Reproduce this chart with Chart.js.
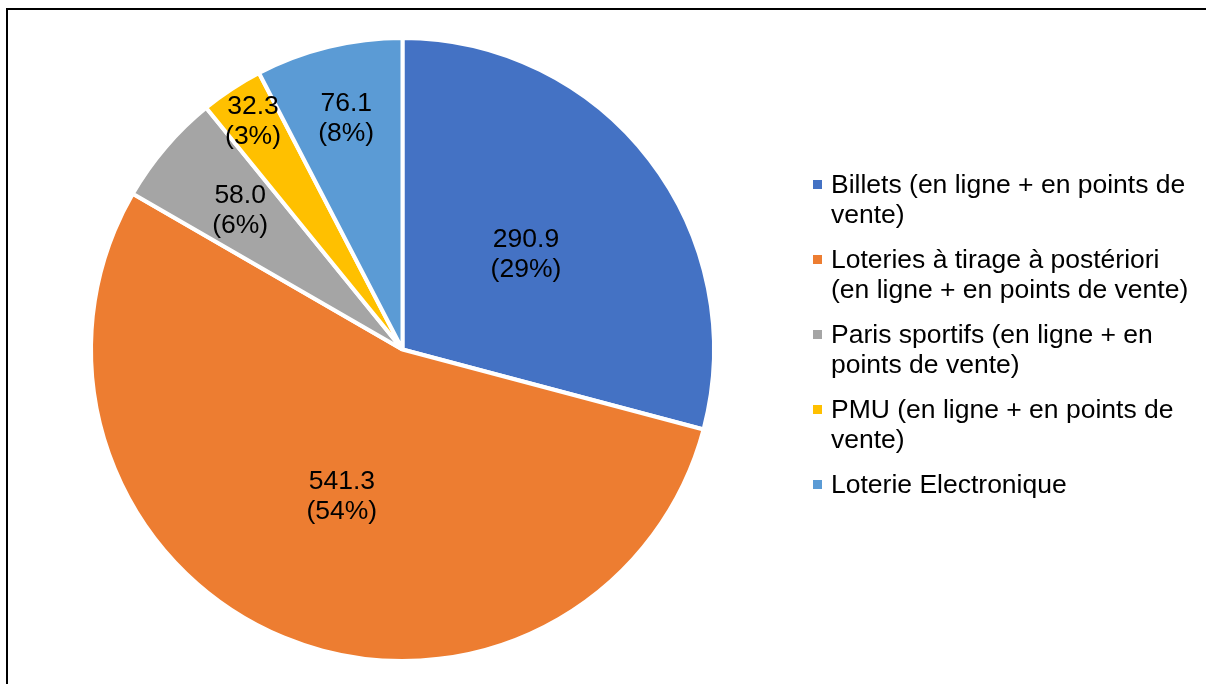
<!DOCTYPE html>
<html>
<head>
<meta charset="utf-8">
<script src="https://cdn.jsdelivr.net/npm/chart.js@4"></script>
<style>
  html, body { margin: 0; padding: 0; background: #fff; overflow: hidden; }
  #wrap { position: relative; width: 1206px; height: 684px; }
  #frame { position: absolute; left: 6px; top: 8px; width: 1400px; height: 900px; border: 2px solid #000; }
  #chart { position: absolute; left: 0; top: 0; }
  #legend { position: absolute; left: 831px; top: 169px; width: 368px;
    font-family: "Liberation Sans", Arial, sans-serif; font-size: 26.5px; line-height: 30px; color: #000; }
  .item { position: relative; margin-bottom: 15px; }
  .item i { position: absolute; left: -18px; top: 11px; width: 9px; height: 9px; }
</style>
</head>
<body>
<div id="wrap">
  <div id="frame"></div>
  <canvas id="chart" width="1206" height="684"></canvas>
  <div id="legend"></div>
</div>
<script>
/* ===== DATA ===== */
const categories = [
  'Billets (en ligne + en points de vente)',
  'Loteries à tirage à postériori (en ligne + en points de vente)',
  'Paris sportifs (en ligne + en points de vente)',
  'PMU (en ligne + en points de vente)',
  'Loterie Electronique'
];
const values = [290.9, 541.3, 58.0, 32.3, 76.1];
const colors = ['#4472C4', '#ED7D31', '#A5A5A5', '#FFC000', '#5B9BD5'];

/* ===== LABELS (value + percent inside slices) ===== */
const sliceLabels = {
  id: 'sliceLabels',
  afterDatasetsDraw(chart, args, opts) {
    const ctx = chart.ctx;
    const data = chart.data.datasets[0].data;
    const total = data.reduce((a, b) => a + b, 0);
    ctx.save();
    ctx.font = '26.5px "Liberation Sans", Arial, sans-serif';
    ctx.fillStyle = '#000';
    ctx.textAlign = 'center';
    ctx.textBaseline = 'middle';
    chart.getDatasetMeta(0).data.forEach((arc, i) => {
      const p = arc.getProps(['x', 'y', 'startAngle', 'endAngle', 'outerRadius'], true);
      const mid = (p.startAngle + p.endAngle) / 2;
      const r = p.outerRadius * opts.radial[i];
      const cx = p.x + Math.cos(mid) * r;
      const cy = p.y + Math.sin(mid) * r;
      const pct = Math.round(data[i] / total * 100);
      ctx.fillText(data[i].toFixed(1), cx, cy - 15);
      ctx.fillText('(' + pct + '%)', cx, cy + 15);
    });
    ctx.restore();
  }
};

/* ===== CHART ===== */
new Chart(document.getElementById('chart'), {
  type: 'pie',
  data: {
    labels: categories,
    datasets: [{ data: values, backgroundColor: colors, borderColor: '#fff', borderWidth: 4 }]
  },
  options: {
    responsive: false,
    animation: false,
    layout: { padding: { left: 89, right: 490, top: 36, bottom: 21 } },
    plugins: {
      legend: { display: false },
      tooltip: { enabled: false },
      sliceLabels: { radial: [0.5, 0.51, 0.685, 0.875, 0.762] }
    }
  },
  plugins: [sliceLabels]
});

/* ===== LEGEND ===== */
document.getElementById('legend').innerHTML = categories.map((c, i) =>
  `<div class="item"><i style="background:${colors[i]}"></i>${c}</div>`).join('');
</script>
</body>
</html>
